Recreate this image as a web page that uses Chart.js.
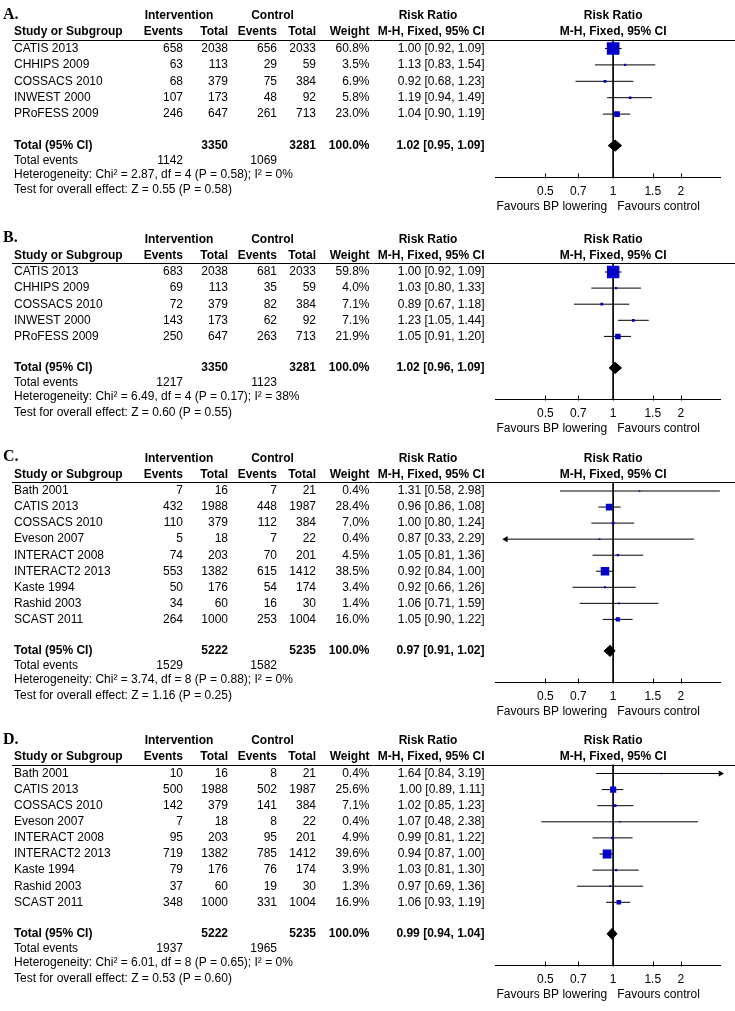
<!DOCTYPE html>
<html>
<head>
<meta charset="utf-8">
<script src="https://cdn.jsdelivr.net/npm/chart.js@4.4.1/dist/chart.umd.min.js"></script>
<style>
  html, body { margin: 0; padding: 0; background: #fff; }
  #wrap { position: relative; width: 735px; height: 1011px; overflow: hidden; }
</style>
</head>
<body>
<div id="wrap"></div>
<script>
// ---- data ----
const studiesAB = ['CATIS 2013', 'CHHIPS 2009', 'COSSACS 2010', 'INWEST 2000', 'PRoFESS 2009'];
const studiesCD = ['Bath 2001', 'CATIS 2013', 'COSSACS 2010', 'Eveson 2007', 'INTERACT 2008',
  'INTERACT2 2013', 'Kaste 1994', 'Rashid 2003', 'SCAST 2011'];
const tickValues = [0.5, 0.7, 1, 1.5, 2];

// panel A
const evIntA = [658, 63, 68, 107, 246];
const totIntA = [2038, 113, 379, 173, 647];
const evCtlA = [656, 29, 75, 48, 261];
const totCtlA = [2033, 59, 384, 92, 713];
const weightA = [60.8, 3.5, 6.9, 5.8, 23.0];
const rrA = [1.00, 1.13, 0.92, 1.19, 1.04];
const lowA = [0.92, 0.83, 0.68, 0.94, 0.90];
const highA = [1.09, 1.54, 1.23, 1.49, 1.19];
const totalA = [3350, 3281, 1142, 1069];      // int total, ctl total, int events, ctl events
const pooledA = [1.02, 0.95, 1.09];
const hetA = 'Heterogeneity: Chi\u00b2 = 2.87, df = 4 (P = 0.58); I\u00b2 = 0%';
const testA = 'Test for overall effect: Z = 0.55 (P = 0.58)';

// panel B
const evIntB = [683, 69, 72, 143, 250];
const totIntB = [2038, 113, 379, 173, 647];
const evCtlB = [681, 35, 82, 62, 263];
const totCtlB = [2033, 59, 384, 92, 713];
const weightB = [59.8, 4.0, 7.1, 7.1, 21.9];
const rrB = [1.00, 1.03, 0.89, 1.23, 1.05];
const lowB = [0.92, 0.80, 0.67, 1.05, 0.91];
const highB = [1.09, 1.33, 1.18, 1.44, 1.20];
const totalB = [3350, 3281, 1217, 1123];
const pooledB = [1.02, 0.96, 1.09];
const hetB = 'Heterogeneity: Chi\u00b2 = 6.49, df = 4 (P = 0.17); I\u00b2 = 38%';
const testB = 'Test for overall effect: Z = 0.60 (P = 0.55)';

// panel C
const evIntC = [7, 432, 110, 5, 74, 553, 50, 34, 264];
const totIntC = [16, 1988, 379, 18, 203, 1382, 176, 60, 1000];
const evCtlC = [7, 448, 112, 7, 70, 615, 54, 16, 253];
const totCtlC = [21, 1987, 384, 22, 201, 1412, 174, 30, 1004];
const weightC = [0.4, 28.4, 7.0, 0.4, 4.5, 38.5, 3.4, 1.4, 16.0];
const rrC = [1.31, 0.96, 1.00, 0.87, 1.05, 0.92, 0.92, 1.06, 1.05];
const lowC = [0.58, 0.86, 0.80, 0.33, 0.81, 0.84, 0.66, 0.71, 0.90];
const highC = [2.98, 1.08, 1.24, 2.29, 1.36, 1.00, 1.26, 1.59, 1.22];
const totalC = [5222, 5235, 1529, 1582];
const pooledC = [0.97, 0.91, 1.02];
const hetC = 'Heterogeneity: Chi\u00b2 = 3.74, df = 8 (P = 0.88); I\u00b2 = 0%';
const testC = 'Test for overall effect: Z = 1.16 (P = 0.25)';

// panel D
const evIntD = [10, 500, 142, 7, 95, 719, 79, 37, 348];
const totIntD = [16, 1988, 379, 18, 203, 1382, 176, 60, 1000];
const evCtlD = [8, 502, 141, 8, 95, 785, 76, 19, 331];
const totCtlD = [21, 1987, 384, 22, 201, 1412, 174, 30, 1004];
const weightD = [0.4, 25.6, 7.1, 0.4, 4.9, 39.6, 3.9, 1.3, 16.9];
const rrD = [1.64, 1.00, 1.02, 1.07, 0.99, 0.94, 1.03, 0.97, 1.06];
const lowD = [0.84, 0.89, 0.85, 0.48, 0.81, 0.87, 0.81, 0.69, 0.93];
const highD = [3.19, 1.11, 1.23, 2.38, 1.22, 1.00, 1.30, 1.36, 1.19];
const totalD = [5222, 5235, 1937, 1965];
const pooledD = [0.99, 0.94, 1.04];
const hetD = 'Heterogeneity: Chi\u00b2 = 6.01, df = 8 (P = 0.65); I\u00b2 = 0%';
const testD = 'Test for overall effect: Z = 0.53 (P = 0.60)';

// ---- layout ----
const FONT = '"Liberation Sans", Arial, sans-serif';
const X_MIN = 1 / 3, X_MAX = 3;
const COL = { name: 14, evI: 183, totI: 228, evC: 277, totC: 316, wt: 369.5, rr: 484.5 };

const panels = [
  { letter: 'A.', firstRow: 48.5, step: 16.4, studies: studiesAB, evI: evIntA, totI: totIntA, evC: evCtlA, totC: totCtlA,
    weight: weightA, rr: rrA, low: lowA, high: highA, total: totalA, pooled: pooledA, het: hetA, test: testA },
  { letter: 'B.', firstRow: 272, step: 16.1, studies: studiesAB, evI: evIntB, totI: totIntB, evC: evCtlB, totC: totCtlB,
    weight: weightB, rr: rrB, low: lowB, high: highB, total: totalB, pooled: pooledB, het: hetB, test: testB },
  { letter: 'C.', firstRow: 491, step: 16.05, studies: studiesCD, evI: evIntC, totI: totIntC, evC: evCtlC, totC: totCtlC,
    weight: weightC, rr: rrC, low: lowC, high: highC, total: totalC, pooled: pooledC, het: hetC, test: testC },
  { letter: 'D.', firstRow: 773.5, step: 16.1, studies: studiesCD, evI: evIntD, totI: totIntD, evC: evCtlD, totC: totCtlD,
    weight: weightD, rr: rrD, low: lowD, high: highD, total: totalD, pooled: pooledD, het: hetD, test: testD }
];

// vertical offsets (px, relative to the first study row)
function rowsOf(p) {
  const n = p.studies.length;
  const total = (n - 1) * p.step + 31.5;
  return {
    study: i => i * p.step,
    letter: -34, head1: -32.5, head2: -16.5, rule: -9,
    total: total,
    events: total + 15,
    het: total + 29,
    test: total + 44.5,
    axis: total + 32
  };
}

function ciText(r, l, h) {
  return r.toFixed(2) + ' [' + l.toFixed(2) + ', ' + h.toFixed(2) + ']';
}

function tablePlugin(p, R) {
  return {
    id: 'forestTable',
    afterDraw(chart) {
      const ctx = chart.ctx;
      const ys = chart.scales.y;
      const xs = chart.scales.x;
      const y = v => ys.getPixelForValue(v);
      const x1 = xs.getPixelForValue(1);
      const put = (s, px, row, align, bold) => {
        ctx.font = (bold ? 'bold ' : '') + '12px ' + FONT;
        ctx.textAlign = align;
        ctx.fillText(s, px, y(row));
      };
      ctx.save();
      ctx.fillStyle = '#000';
      ctx.strokeStyle = '#000';
      ctx.lineWidth = 1;
      ctx.textBaseline = 'middle';

      // upward tick marks on the axis
      const ay = Math.round(chart.chartArea.bottom) + 0.5;
      ctx.beginPath();
      xs.ticks.forEach(t => {
        const px = Math.round(xs.getPixelForValue(t.value)) + 0.5;
        ctx.moveTo(px, ay);
        ctx.lineTo(px, ay - 5);
      });
      ctx.stroke();

      // panel letter
      ctx.font = 'bold 16px "Liberation Serif", "Times New Roman", serif';
      ctx.textAlign = 'left';
      ctx.fillText(p.letter, 3, y(R.letter));

      // headers
      put('Intervention', 179, R.head1, 'center', true);
      put('Control', 272.5, R.head1, 'center', true);
      put('Risk Ratio', 428, R.head1, 'center', true);
      put('Risk Ratio', x1, R.head1, 'center', true);
      put('Study or Subgroup', COL.name, R.head2, 'left', true);
      put('Events', COL.evI, R.head2, 'right', true);
      put('Total', COL.totI, R.head2, 'right', true);
      put('Events', COL.evC, R.head2, 'right', true);
      put('Total', COL.totC, R.head2, 'right', true);
      put('Weight', COL.wt, R.head2, 'right', true);
      put('M-H, Fixed, 95% CI', COL.rr, R.head2, 'right', true);
      put('M-H, Fixed, 95% CI', x1, R.head2, 'center', true);

      // header rule
      const ly = Math.round(y(R.rule)) + 0.5;
      ctx.beginPath();
      ctx.moveTo(12, ly);
      ctx.lineTo(735, ly);
      ctx.stroke();

      // study rows
      p.studies.forEach((s, i) => {
        const r = R.study(i);
        put(s, COL.name, r, 'left');
        put(String(p.evI[i]), COL.evI, r, 'right');
        put(String(p.totI[i]), COL.totI, r, 'right');
        put(String(p.evC[i]), COL.evC, r, 'right');
        put(String(p.totC[i]), COL.totC, r, 'right');
        put(p.weight[i].toFixed(1) + '%', COL.wt, r, 'right');
        put(ciText(p.rr[i], p.low[i], p.high[i]), COL.rr, r, 'right');
      });

      // summary rows
      put('Total (95% CI)', COL.name, R.total, 'left', true);
      put(String(p.total[0]), COL.totI, R.total, 'right', true);
      put(String(p.total[1]), COL.totC, R.total, 'right', true);
      put('100.0%', COL.wt, R.total, 'right', true);
      put(ciText(p.pooled[0], p.pooled[1], p.pooled[2]), COL.rr, R.total, 'right', true);
      put('Total events', COL.name, R.events, 'left');
      put(String(p.total[2]), COL.evI, R.events, 'right');
      put(String(p.total[3]), COL.evC, R.events, 'right');
      put(p.het, COL.name, R.het, 'left');
      put(p.test, COL.name, R.test, 'left');

      // favours labels under the axis
      ctx.font = '12px ' + FONT;
      const fy = chart.chartArea.bottom + 29;
      ctx.textAlign = 'right';
      ctx.fillText('Favours BP lowering', x1 - 6, fy);
      ctx.textAlign = 'left';
      ctx.fillText('Favours control', x1 + 4, fy);
      ctx.restore();
    }
  };
}

Chart.defaults.font.family = FONT;
Chart.defaults.font.size = 12;
Chart.defaults.color = '#000';

const wrap = document.getElementById('wrap');

panels.forEach(function (p) {
  const R = rowsOf(p);
  const topY = Math.round(p.firstRow - 48);
  const yMin = R.rule;
  const yMax = R.axis;
  const padTop = p.firstRow + yMin - topY;
  const plotBottom = padTop + (yMax - yMin);
  const h = Math.ceil(plotBottom + 42);
  const padBottom = h - 30 - plotBottom;

  const canvas = document.createElement('canvas');
  canvas.width = 735;
  canvas.height = h;
  canvas.style.cssText = 'position:absolute;left:0;top:' + topY + 'px;width:735px;height:' + h + 'px;';
  wrap.appendChild(canvas);

  const squares = p.rr.map((r, i) => ({ x: r, y: R.study(i) }));
  const ciLines = [];
  const arrows = [];
  const arrowRot = [];
  p.studies.forEach((s, i) => {
    const r = R.study(i);
    ciLines.push({ x: p.low[i], y: r }, { x: p.high[i], y: r }, { x: null, y: null });
    if (p.low[i] < X_MIN) { arrows.push({ x: X_MIN, y: r }); arrowRot.push(-90); }
    if (p.high[i] > X_MAX) { arrows.push({ x: X_MAX, y: r }); arrowRot.push(90); }
  });
  const t = R.total;
  const diamond = [
    { x: p.pooled[1], y: t }, { x: p.pooled[0], y: t - 5.6 },
    { x: p.pooled[2], y: t }, { x: p.pooled[0], y: t + 5.6 }, { x: p.pooled[1], y: t }
  ];
  const nullLine = [{ x: 1, y: yMin }, { x: 1, y: yMax }];

  new Chart(canvas, {
    type: 'scatter',
    data: {
      datasets: [
        {
          data: squares,
          pointStyle: 'rect',
          pointRadius: p.weight.map(w => (1.5 + 11 * w / 60) / Math.SQRT2),
          backgroundColor: '#0000c8',
          borderWidth: 0
        },
        {
          type: 'line',
          data: diamond,
          borderColor: '#000',
          backgroundColor: '#000',
          borderWidth: 1,
          fill: 'shape',
          pointRadius: 0,
          tension: 0
        },
        {
          data: arrows,
          pointStyle: 'triangle',
          pointRadius: 3.5,
          rotation: arrowRot,
          backgroundColor: '#000',
          borderWidth: 0,
          clip: false
        },
        {
          type: 'line',
          data: ciLines,
          borderColor: '#000',
          borderWidth: 1,
          pointRadius: 0,
          spanGaps: false,
          tension: 0
        },
        {
          type: 'line',
          data: nullLine,
          borderColor: '#000',
          borderWidth: 1,
          pointRadius: 0
        }
      ]
    },
    options: {
      responsive: false,
      animation: false,
      events: [],
      layout: { padding: { left: 495.5, right: 14.5, top: padTop, bottom: padBottom } },
      plugins: {
        legend: { display: false },
        tooltip: { enabled: false }
      },
      scales: {
        x: {
          type: 'logarithmic',
          min: X_MIN,
          max: X_MAX,
          afterBuildTicks: function (scale) {
            scale.ticks = tickValues.map(v => ({ value: v }));
          },
          afterFit: function (scale) {
            scale.height = 30;
          },
          ticks: {
            callback: v => String(v),
            padding: 7,
            maxRotation: 0,
            autoSkip: false,
            color: '#000',
            font: { size: 12 }
          },
          grid: {
            drawOnChartArea: false,
            drawTicks: false
          },
          border: { display: true, color: '#000', width: 1 }
        },
        y: {
          type: 'linear',
          display: false,
          reverse: true,
          min: yMin,
          max: yMax
        }
      }
    },
    plugins: [tablePlugin(p, R)]
  });
});
</script>
</body>
</html>
